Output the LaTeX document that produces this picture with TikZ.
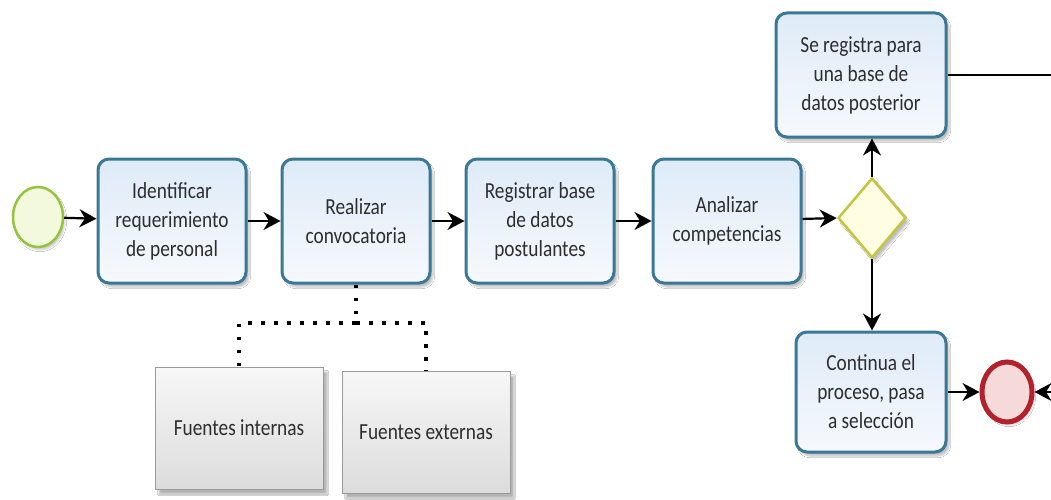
\documentclass[tikz,border=0pt]{standalone}
\usepackage{fontspec}
\newfontfamily\diagfont[FakeStretch=0.84]{Carlito}
\usetikzlibrary{shadows.blur,arrows.meta,shapes.geometric}
\definecolor{taskborder}{HTML}{3A7896}
\definecolor{tasktop}{HTML}{DEEBF7}
\definecolor{taskbot}{HTML}{F6F9FD}
\definecolor{startborder}{HTML}{94C43C}
\definecolor{startfill}{HTML}{F2F9DC}
\definecolor{endborder}{HTML}{B3212B}
\definecolor{endfill}{HTML}{F6DADA}
\definecolor{gwborder}{HTML}{C4C43E}
\definecolor{gwfill}{HTML}{FFFDE2}
\definecolor{notetop}{HTML}{F7F7F7}
\definecolor{notebot}{HTML}{DCDCDC}
\definecolor{noteborder}{HTML}{9A9A9A}
\definecolor{txt}{HTML}{2E2E2E}
\begin{document}
\begin{tikzpicture}[x=1pt,y=-1pt,
  lbl/.style={font={\diagfont\fontsize{23}{29}\selectfont}, text=txt, align=center},
  task/.style={lbl, rectangle, rounded corners=11pt, draw=taskborder, line width=3pt,
    top color=tasktop, bottom color=taskbot, minimum width=148pt, minimum height=124pt,
    inner sep=0pt, blur shadow={shadow xshift=3pt, shadow yshift=-4pt, shadow opacity=25, shadow blur steps=6}},
  note/.style={lbl, rectangle, draw=noteborder, line width=0.8pt,
    top color=notetop, bottom color=notebot, minimum width=168pt, minimum height=122pt,
    inner sep=0pt, blur shadow={shadow xshift=4pt, shadow yshift=-5pt, shadow opacity=30, shadow blur steps=6}},
  flow/.style={draw=black, line width=2.2pt, arrows={-Stealth[length=17pt,width=18pt,inset=5.5pt]}},
  assoc/.style={draw=black, line width=3.5pt, line cap=butt, dash pattern=on 3.5pt off 9.5pt},
]
\useasboundingbox (0,0) rectangle (1051,500);
\fill[white] (0,0) rectangle (1051,500);

% events
\node[ellipse, draw=startborder, line width=2.5pt, fill=startfill,
  minimum width=50pt, minimum height=60pt,
  blur shadow={shadow xshift=2pt, shadow yshift=-3pt, shadow opacity=20}] (start) at (38,217) {};
\node[ellipse, draw=endborder, line width=5pt, fill=endfill,
  minimum width=50pt, minimum height=60pt,
  blur shadow={shadow xshift=2pt, shadow yshift=-3pt, shadow opacity=20}] (end) at (1007,392) {};

% activities
\node[task] (t1) at (172,221) {Identificar\\requerimiento\\de personal};
\node[task] (t2) at (356,221) {Realizar\\convocatoria};
\node[task] (t3) at (540,221) {Registrar base\\de datos\\postulantes};
\node[task] (t4) at (727,221) {Analizar\\competencias};
\node[task, minimum width=170pt] (up) at (861,75) {Se registra para\\una base de\\datos posterior};
\node[task, minimum width=150pt, minimum height=120pt] (down) at (871,392) {Continua el\\proceso, pasa\\a selección};

% gateway
\node[diamond, draw=gwborder, line width=2.5pt, fill=gwfill, aspect=0.85,
  minimum width=68pt, minimum height=80pt, inner sep=0pt,
  blur shadow={shadow xshift=3pt, shadow yshift=-4pt, shadow opacity=25}] (gw) at (872,218) {};

% text annotations
\node[note] (fi) at (239,428) {Fuentes internas};
\node[note] (fe) at (426,432) {Fuentes externas};

% sequence flows
\draw[flow] (start) -- (t1);
\draw[flow] (t1) -- (t2);
\draw[flow] (t2) -- (t3);
\draw[flow] (t3) -- (t4);
\draw[flow] (t4) -- (gw.west);
\draw[flow] (gw.north) -- (gw.north |- up.south);
\draw[flow] (gw.south) -- (gw.south |- down.north);
\draw[flow] (down) -- (end);
\coordinate (loopA) at (1054,75);
\coordinate (loopB) at (1054,392);
\draw[flow] (up.east) -- (loopA) -- (loopB) -- (end.east);

% associations
\coordinate (fork) at (356,323);
\draw[assoc] (t2.south) -- (fork) -- (fork -| fi.north) -- (fi.north);
\draw[assoc] (fork) -- (fork -| fe.north) -- (fe.north);
\end{tikzpicture}
\end{document}
